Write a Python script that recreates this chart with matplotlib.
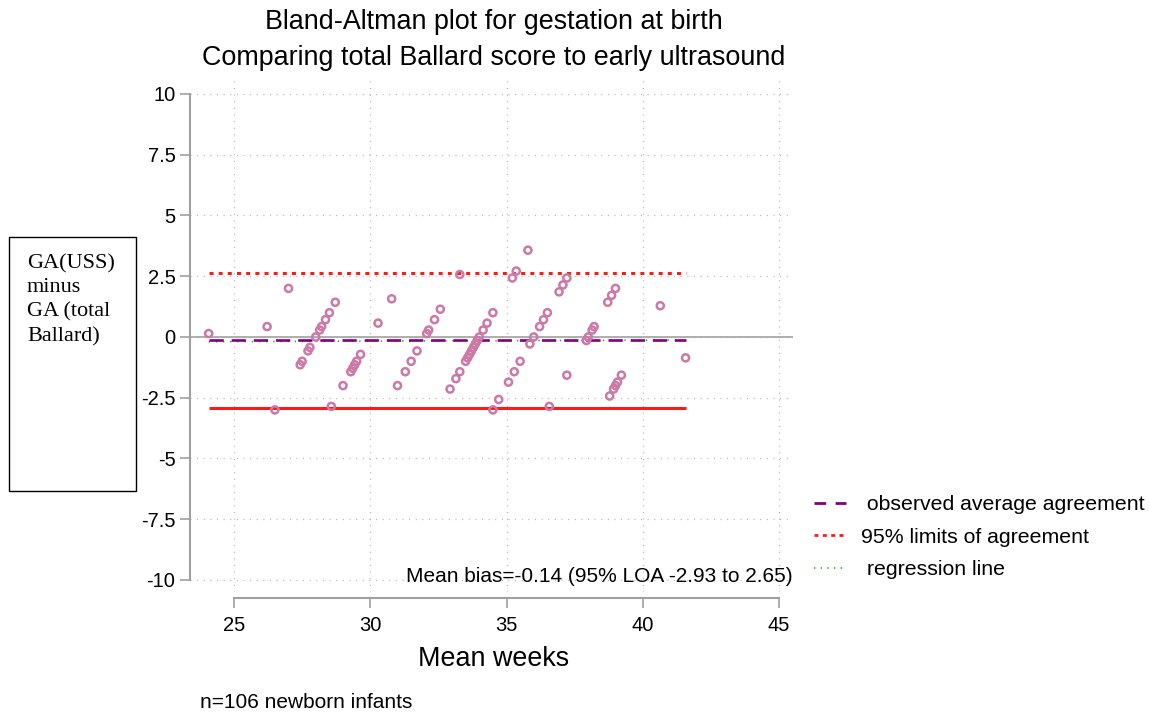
import numpy as np
import matplotlib
matplotlib.use("Agg")
import matplotlib.pyplot as plt
from matplotlib.lines import Line2D
from matplotlib.patches import Rectangle

plt.rcParams['font.family'] = ['Liberation Sans', 'DejaVu Sans']

# Gestational age by total Ballard score (weeks) and the ultrasound estimate
# expressed as the difference from it in days (USS minus Ballard)
ga_ballard_wk = [24,
                 26, 26,
                 28, 28, 28, 28, 28, 28, 28, 28, 28, 28, 28,
                 30, 30, 30, 30, 30, 30, 30, 30, 30,
                 32, 32, 32, 32, 32, 32, 32, 32, 32,
                 34, 34, 34, 34, 34, 34, 34, 34, 34, 34, 34, 34, 34, 34, 34, 34, 34,
                 36, 36, 36, 36, 36, 36, 36, 36, 36, 36, 36, 36, 36,
                 38, 38, 38, 38, 38, 38, 38, 38, 38,
                 40, 40, 40, 40, 40, 40,
                 42]
uss_minus_ballard_days = [1,
                          3, 14,
                          -21, -8, -7, -4, -3, 0, 2, 3, 5, 7, 10,
                          -20, -14, -10, -9, -8, -7, -5, 4, 11,
                          -14, -10, -7, -4, 1, 2, 5, 8, 18,
                          -15, -12, -10, -7, -6, -5, -4, -3, -2, -1, 0, 2, 4, 7, 17, 19, 25,
                          -21, -18, -13, -10, -7, -2, 0, 3, 5, 7, 13, 15, 17,
                          -20, -11, -1, 0, 2, 3, 10, 12, 14,
                          -17, -15, -14, -13, -11, 9,
                          -6]

mean_bias = -0.14
loa_low = -2.93
loa_high = 2.65

# fitted regression of difference on mean (all 106 infants)
reg_intercept = -0.29
reg_slope = 0.004

x_ticks = [25, 30, 35, 40, 45]
y_ticks = [-10, -7.5, -5, -2.5, 0, 2.5, 5, 7.5, 10]
y_tick_labels = ['-10', '-7.5', '-5', '-2.5', '0', '2.5', '5', '7.5', '10']

ballard = np.array(ga_ballard_wk, dtype=float)
uss = ballard + np.array(uss_minus_ballard_days, dtype=float) / 7.0
means = (uss + ballard) / 2.0
diffs = uss - ballard

W, H = 1149, 717


def fx(px):
    return px / W


def fy(py):
    return 1 - py / H


fig = plt.figure(figsize=(W / 100, H / 100), dpi=100)
ax = fig.add_axes([fx(190), fy(592), fx(793) - fx(190), fy(80) - fy(592)])
ax.set_xlim(23.385, 45.514)
ax.set_ylim(-10.494, 10.576)

# dotted grid
ax.set_xticks(x_ticks)
ax.set_yticks(y_ticks)
ax.set_yticklabels(y_tick_labels)
ax.set_xticklabels([str(t) for t in x_ticks])
ax.grid(True, color='#b0b0b0', lw=0.9, linestyle=(0, (0.8, 4.5)))
ax.set_axisbelow(True)

for side in ('top', 'right'):
    ax.spines[side].set_visible(False)
for side in ('left', 'bottom'):
    ax.spines[side].set_color('#a0a0a0')
    ax.spines[side].set_linewidth(1.5)
ax.spines['left'].set_bounds(-10, 10)
ax.spines['bottom'].set_bounds(25, 45)
ax.spines['bottom'].set_position(('outward', 4.3))

ax.tick_params(axis='both', direction='out', length=7, width=1.2,
               color='#a0a0a0', labelsize=14.5)
ax.tick_params(axis='y', pad=3.5)
ax.tick_params(axis='x', pad=6)

x0, x1 = means.min(), means.max()

# zero reference line
ax.axhline(0, color='#a8a8a8', lw=1.3, zorder=2)

xr = np.array([x0, x1])
ax.plot(xr, reg_intercept + reg_slope * xr, color='#3c9c3c', lw=1.2,
        linestyle=(0, (0.8, 3.5)), zorder=3)

ax.hlines(mean_bias, x0, x1, color='#800080', lw=1.9,
          linestyles=[(0, (5.4, 3.0))], zorder=4)
ax.hlines(loa_high, x0, x1, color='#ff1a1a', lw=2.2,
          linestyles=[(0, (1.3, 1.7))], zorder=4)
ax.hlines(loa_low, x0, x1, color='#ff1a1a', lw=2.2, zorder=4)

ax.scatter(means, diffs, s=26, facecolors='none', edgecolors='#cc79a7',
           linewidths=1.8, zorder=6)

fig.text(fx(793), fy(577),
         f"Mean bias={mean_bias:.2f} (95% LOA {loa_low:.2f} to {loa_high:.2f})",
         ha='right', va='center', fontsize=15)

# titles
fig.text(fx(494), fy(22), 'Bland-Altman plot for gestation at birth',
         ha='center', va='center', fontsize=19.4)
fig.text(fx(494), fy(58), 'Comparing total Ballard score to early ultrasound',
         ha='center', va='center', fontsize=19.4)
fig.text(fx(494), fy(659), 'Mean weeks', ha='center', va='center', fontsize=19.4)
fig.text(fx(200), fy(703), 'n=106 newborn infants', ha='left', va='center',
         fontsize=15)

# boxed y-axis title
fig.add_artist(Rectangle((fx(9), fy(491)), fx(136) - fx(9), fy(237) - fy(491),
                         transform=fig.transFigure, fill=False,
                         edgecolor='black', lw=1))
fig.text(fx(27), fy(254), 'GA(USS)\nminus\nGA (total\nBallard)',
         ha='left', va='top', family=['Liberation Serif', 'DejaVu Serif'],
         fontsize=16, linespacing=1.36)

handles = [
    Line2D([], [], color='#800080', lw=2.0, linestyle=(0, (4.2, 3.4))),
    Line2D([], [], color='#ff1a1a', lw=2.0, linestyle=(0, (1.4, 1.6))),
    Line2D([], [], color='#3c9c3c', lw=1.2, linestyle=(0, (0.8, 3.2))),
]
labels = [' observed average agreement', '95% limits of agreement',
          ' regression line']
fig.legend(handles, labels, loc='upper left',
           bbox_to_anchor=(fx(814), fy(495)), frameon=False, fontsize=15.3,
           handlelength=1.5, handletextpad=0.7, labelspacing=0.64,
           borderpad=0, borderaxespad=0)

fig.savefig('out.png', dpi=100)
